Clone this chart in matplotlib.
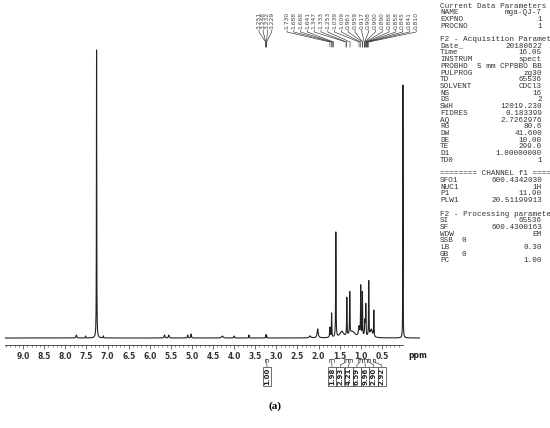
import numpy as np
import matplotlib
matplotlib.use("Agg")
import matplotlib.pyplot as plt

# ---------------- data ----------------
peak_ppm    = [7.74, 7.52, 7.26, 7.10, 5.65, 5.55, 5.10, 5.02, 4.28, 4.00, 3.65,
               3.251, 3.232, 2.20, 2.02, 1.73, 1.69, 1.59, 1.45, 1.33, 1.26,
               1.20, 1.04, 1.00, 0.96, 0.90, 0.88, 0.81, 0.75, 0.69, 0.00]
peak_height = [3, 2, 288, 2, 3, 3, 3, 4, 2, 2, 3,
               3, 3, 2, 9, 10, 24, 105, 6, 38, 42,
               6, 10, 50, 44, 16, 30, 55, 8, 26, 253]
peak_width  = [0.010, 0.005, 0.004, 0.005, 0.010, 0.010, 0.008, 0.008, 0.020, 0.010, 0.005,
               0.004, 0.004, 0.020, 0.015, 0.008, 0.005, 0.005, 0.050, 0.005, 0.005,
               0.080, 0.015, 0.005, 0.005, 0.010, 0.005, 0.005, 0.030, 0.005, 0.003]

label_group1 = ["3.251", "3.248", "3.232", "3.229"]
label_group2 = ["1.730", "1.688", "1.668", "1.641", "1.347", "1.333", "1.253",
                "1.039", "1.009", "0.961", "0.959", "0.917", "0.908", "0.900",
                "0.890", "0.868", "0.858", "0.845", "0.841", "0.810"]

integral_start = [3.28, 1.76, 1.40, 1.30, 1.06, 0.97, 0.84, 0.72]
integral_end   = [3.20, 1.64, 1.30, 1.20, 0.97, 0.84, 0.78, 0.66]
integral_value = ["1.00", "1.98", "2.93", "4.21", "6.59", "9.96", "2.90", "2.92"]

major_ticks = [9.0, 8.5, 8.0, 7.5, 7.0, 6.5, 6.0, 5.5, 5.0, 4.5, 4.0, 3.5, 3.0, 2.5, 2.0, 1.5, 1.0, 0.5]

params = [
    ("Current Data Parameters", ""), ("NAME", "mga-QJ-7"), ("EXPNO", "1"), ("PROCNO", "1"),
    ("", ""),
    ("F2 - Acquisition Paramet", ""), ("Date_", "20180622"), ("Time", "16.05"),
    ("INSTRUM", "spect"), ("PROBHD", "5 mm CPPBBO BB"), ("PULPROG", "zg30"), ("TD", "65536"),
    ("SOLVENT", "CDCl3"), ("NS", "16"), ("DS", "2"), ("SWH", "12019.230"),
    ("FIDRES", "0.183399"), ("AQ", "2.7262976"), ("RG", "80.6"), ("DW", "41.600"),
    ("DE", "10.00"), ("TE", "299.0"), ("D1", "1.00000000"), ("TD0", "1"),
    ("", ""),
    ("======== CHANNEL f1 ====", ""), ("SFO1", "600.4342030"), ("NUC1", "1H"),
    ("P1", "11.90"), ("PLW1", "20.51199913"),
    ("", ""),
    ("F2 - Processing paramete", ""), ("SI", "65536"), ("SF", "600.4300163"),
    ("WDW", "EM"), ("SSB", "0"), ("LB", "0.30"), ("GB", "0"), ("PC", "1.00"),
]

# ---------------- figure ----------------
W, H = 550, 428
fig = plt.figure(figsize=(W / 100, H / 100), dpi=100)
fig.patch.set_facecolor("white")

ax = fig.add_axes([5 / W, 1 - 345 / H, 415 / W, 300 / H])
x = np.linspace(9.43, -0.405, 60000)
y = np.zeros_like(x)
for p, h, w in zip(peak_ppm, peak_height, peak_width):
    y += h * w**2 / ((x - p) ** 2 + w**2)
ax.plot(x, y, color="#222222", lw=0.8)
ax.set_xlim(9.43, -0.405)
ax.set_ylim(-7, 293)
for s in ["top", "left", "right"]:
    ax.spines[s].set_visible(False)
ax.spines["bottom"].set_bounds(0.0, 9.43)
ax.spines["bottom"].set_linewidth(0.6)
ax.spines["bottom"].set_color("#333333")
ax.set_yticks([])
ax.set_xticks(major_ticks)
ax.set_xticklabels([f"{t:.1f}" for t in major_ticks], fontsize=5.5, fontweight="bold", color="#222222")
ax.set_xticks(np.arange(0.1, 9.41, 0.1), minor=True)
ax.tick_params(axis="x", which="major", length=3, width=0.5, pad=2, colors="#333333")
ax.tick_params(axis="x", which="minor", length=1.5, width=0.4, colors="#333333")
ax.patch.set_alpha(0)

# overlay in pixel coordinates
ov = fig.add_axes([0, 0, 1, 1])
ov.set_xlim(0, W)
ov.set_ylim(H, 0)
ov.axis("off")
ov.patch.set_alpha(0)

def ppm2px(p):
    return ax.transData.transform((p, 0))[0]

ov.text(408, 355, "ppm", fontsize=5.5, fontweight="bold", color="#222222", va="center", ha="left")

# peak labels
def draw_labels(labels, x0, dx):
    for i, lab in enumerate(labels):
        lx = x0 + dx * i
        ov.text(lx, 12, lab, rotation=90, fontsize=4.3, color="#444444",
                ha="center", va="top")
        px = ppm2px(float(lab))
        ov.plot([lx, lx, px, px], [30, 32, 42, 47], color="#333333", lw=0.45)

draw_labels(label_group1, 259, 4.2)
draw_labels(label_group2, 287, 6.8)

# integrals
for i, (a, b, v) in enumerate(zip(integral_start, integral_end, integral_value)):
    xa, xb = ppm2px(a), ppm2px(b)
    xc = 0.5 * (xa + xb)
    if i == 0:
        bx = 267
    else:
        bx = 332 + 8.3 * (i - 1)
    ov.plot([xa, xa, xb, xb], [362, 359, 359, 362], color="#333333", lw=0.45)
    ov.plot([xc, xc, bx, bx], [359, 362, 365, 367], color="#333333", lw=0.45)
    ov.text(bx, 368, v, rotation=90, fontsize=5, fontweight="bold", color="#222222",
            ha="center", va="top",
            bbox=dict(boxstyle="square,pad=0.15", fc="white", ec="#333333", lw=0.5))

# parameter block
for k, (key, val) in enumerate(params):
    yy = 6 + 6.71 * k
    if key:
        ov.text(440, yy, key, fontsize=5.5, family="Liberation Mono", color="#333333",
                ha="left", va="center")
    if val:
        if key in ("SSB", "GB"):
            ov.text(462, yy, val, fontsize=5.5, family="Liberation Mono", color="#333333",
                    ha="left", va="center")
        else:
            ov.text(542, yy, val, fontsize=5.5, family="Liberation Mono", color="#333333",
                    ha="right", va="center")

ov.text(275, 406, "(a)", fontsize=8, fontweight="bold", family="Liberation Serif",
        ha="center", va="center", color="black")

fig.savefig("out.png", dpi=100)
